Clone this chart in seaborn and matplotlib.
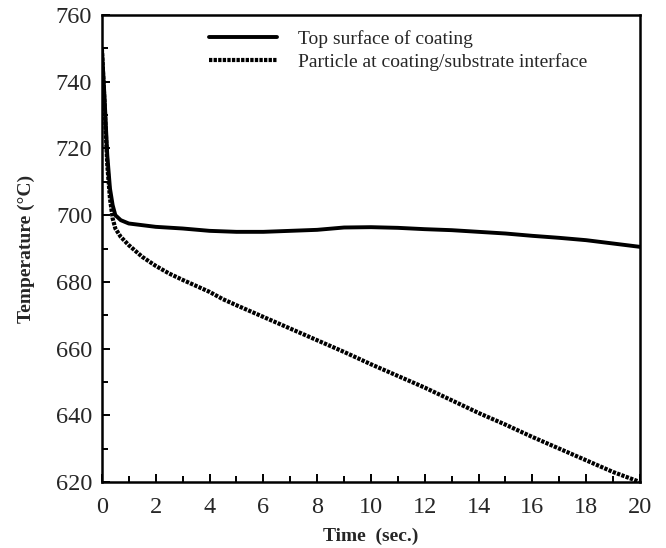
import numpy as np
import pandas as pd
import matplotlib
matplotlib.use("Agg")
import matplotlib.pyplot as plt
from matplotlib.ticker import MultipleLocator
import seaborn as sns

# Cooling histories (time in s, temperature in °C)
time_top = [0, 0.1, 0.2, 0.3, 0.4, 0.5, 0.7, 1, 1.5, 2, 3, 4, 5, 6, 7, 8,
            9, 10, 11, 12, 13, 14, 15, 16, 17, 18, 19, 20]
temp_top = [750, 735, 718, 708, 703, 700, 698.5, 697.5, 697, 696.5, 696, 695.3,
            695, 695, 695.3, 695.6, 696.3, 696.4, 696.2, 695.8, 695.5, 695,
            694.5, 693.8, 693.2, 692.5, 691.5, 690.5]

time_int = [0, 0.1, 0.2, 0.3, 0.4, 0.5, 0.7, 1, 1.5, 2, 2.5, 3, 4, 4.5, 5, 6,
            7, 8, 9, 10, 11, 12, 13, 14, 15, 16, 17, 18, 19, 20]
temp_int = [750, 733, 715, 705, 699, 696, 693.5, 691, 687.5, 684.8, 682.5,
            680.6, 677, 674.8, 673, 669.5, 666, 662.5, 659, 655.3, 651.8,
            648.3, 644.5, 640.7, 637.2, 633.5, 630, 626.5, 623, 620]

label_top = "Top surface of coating"
label_int = "Particle at coating/substrate interface"

df = pd.concat([
    pd.DataFrame({"time": time_top, "temp": temp_top, "series": label_top}),
    pd.DataFrame({"time": time_int, "temp": temp_int, "series": label_int}),
])

sns.set_style("ticks")
plt.rcParams["font.family"] = ["Liberation Serif", "DejaVu Serif"]

fig = plt.figure(figsize=(6.66, 5.48), dpi=100)
ax = fig.add_axes([0.153, 0.1204, 0.808, 0.8522])

sns.lineplot(data=df[df.series == label_top], x="time", y="temp", ax=ax,
             color="black", linewidth=2.8, label=label_top, sort=False)
sns.lineplot(data=df[df.series == label_int], x="time", y="temp", ax=ax,
             color="black", linewidth=3.0, label=label_int, sort=False)
ax.lines[1].set_dashes([0.8, 0.3])

ax.set_xlim(0, 20)
ax.set_ylim(620, 760)
ax.xaxis.set_major_locator(MultipleLocator(2))
ax.xaxis.set_minor_locator(MultipleLocator(1))
ax.yaxis.set_major_locator(MultipleLocator(20))
ax.yaxis.set_minor_locator(MultipleLocator(10))
ax.tick_params(which="both", direction="in", top=False, right=False,
               width=1.4, labelsize=17.5, color="black")
ax.tick_params(axis="x", which="both", pad=11)
ax.tick_params(axis="y", which="both", pad=7)
ax.tick_params(which="major", length=6)
ax.tick_params(which="minor", length=4)
for s in ax.spines.values():
    s.set_linewidth(1.8)
    s.set_color("black")

ax.set_xlabel("Time  (sec.)", fontsize=14, fontweight="bold", labelpad=7)
ax.set_ylabel("Temperature (°C)", fontsize=14, fontweight="bold", labelpad=15)

leg = ax.legend(loc="upper left", bbox_to_anchor=(0.184, 0.985), frameon=False,
                fontsize=14, handlelength=3.5, handletextpad=1.1,
                labelspacing=0.26, borderaxespad=0)

fig.savefig("out.png", dpi=100)
